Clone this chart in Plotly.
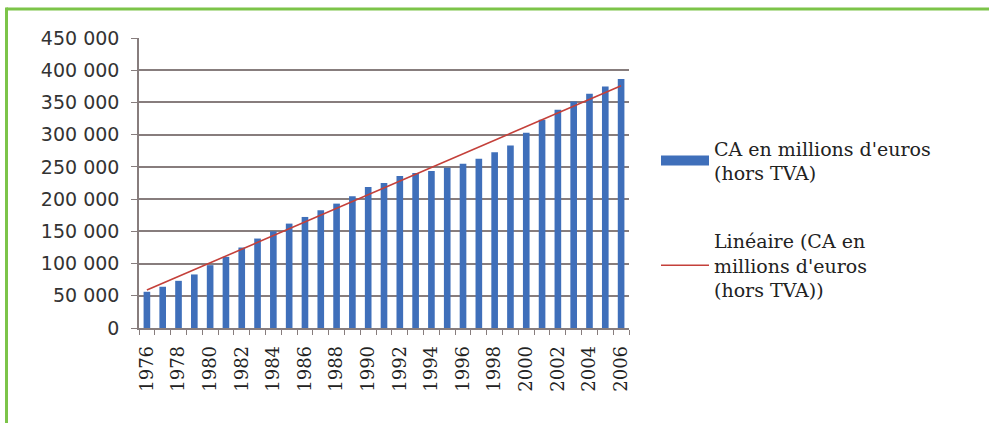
import numpy as np
import plotly.graph_objects as go

years = list(range(1976, 2007))
ca_values = [56200, 64000, 73200, 83100, 97500, 110400, 124900, 138800, 150100,
             162000, 172300, 182700, 193000, 204300, 218700, 225000, 235800,
             240400, 243500, 248700, 254900, 262600, 272900, 283300, 302900,
             323000, 338500, 351400, 363300, 374600, 386500]
y_ticks = list(range(0, 450001, 50000))
y_labels = ["0" if v == 0 else f"{v // 1000} 000" for v in y_ticks]
x_ticks = list(range(1976, 2007, 2))
bar_name = "CA en millions d'euros<br>(hors TVA)"
trend_name = "Linéaire (CA en<br>millions d'euros<br>(hors TVA))"

slope, intercept = np.polyfit(years, ca_values, 1)
trend = [slope * y + intercept for y in years]

BLUE = "#3f6fba"
RED = "#c4403a"
GRID = "#877d7d"

W, H = 989, 423
L, R, T, B = 139, 629, 37.5, 328

fig = go.Figure()
fig.add_trace(go.Bar(x=years, y=ca_values, marker=dict(color=BLUE, line_width=0),
                     width=0.42, showlegend=False, name=bar_name))
fig.add_trace(go.Scatter(x=years, y=trend, mode="lines",
                         line=dict(color=RED, width=1.6), showlegend=False,
                         name=trend_name))
# legend entries
fig.add_trace(go.Scatter(x=[None], y=[None], mode="lines", name=bar_name,
                         line=dict(color=BLUE, width=11), legendgroup="a"))
fig.add_trace(go.Scatter(x=[None], y=[None], mode="lines", name=trend_name,
                         line=dict(color=RED, width=1.6), legendgroup="b"))

pw, ph = R - L, B - T
def px_x(x):
    return (x - L) / pw
def px_y(y):
    return (B - y) / ph

fig.add_shape(type="line", xref="paper", yref="paper",
              x0=px_x(6.5), x1=px_x(W + 5), y0=px_y(8.5), y1=px_y(8.5),
              line=dict(color="#7cc449", width=3))
fig.add_shape(type="line", xref="paper", yref="paper",
              x0=px_x(6.5), x1=px_x(6.5), y0=px_y(7), y1=px_y(H + 5),
              line=dict(color="#7cc449", width=3))

fig.update_layout(
    width=W, height=H,
    margin=dict(l=L, r=W - R, t=T, b=H - B, pad=0),
    paper_bgcolor="white", plot_bgcolor="white",
    legend=dict(x=px_x(656), y=px_y(129), xanchor="left", yanchor="top",
                font=dict(family="DejaVu Serif", size=19, color="#222"),
                tracegroupgap=40, itemwidth=48, bgcolor="rgba(0,0,0,0)"),
)
fig.update_xaxes(range=[1975.5, 2006.5], tickvals=x_ticks,
                 ticktext=[str(v) for v in x_ticks], tickangle=-90, ticks="",
                 tickfont=dict(family="DejaVu Serif", size=18, color="#222"),
                 showgrid=False, showline=True, linecolor=GRID, linewidth=1.5,
                 zeroline=False, ticklabelstandoff=9,
                 minor=dict(ticks="outside", tick0=1975.5, dtick=1, ticklen=5,
                            tickcolor=GRID, tickwidth=1, showgrid=False))
fig.update_yaxes(range=[0, 450000], tickvals=y_ticks, ticktext=y_labels,
                 ticks="outside", ticklen=6, tickcolor=GRID, tickwidth=1,
                 tickfont=dict(family="DejaVu Sans", size=19, color="#333"),
                 showgrid=True, gridcolor=GRID, gridwidth=1.5,
                 showline=True, linecolor=GRID, linewidth=1.5, zeroline=False,
                 ticklabelstandoff=8)

fig.write_html("out.html")
